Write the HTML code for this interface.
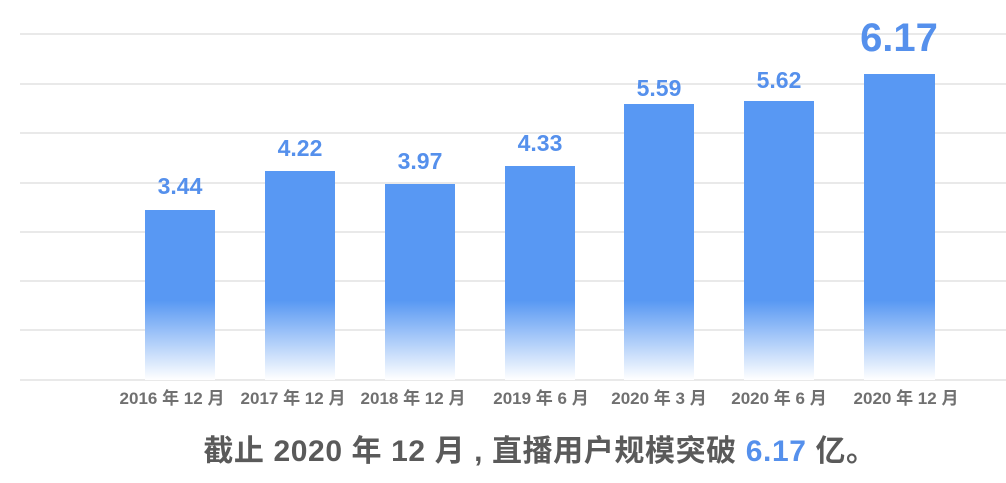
<!DOCTYPE html><html><head><meta charset="utf-8"><style>
body{margin:0;width:1006px;height:478px;background:#fff;overflow:hidden;font-family:"Liberation Sans","Noto Sans CJK SC",sans-serif}
</style></head><body>
<svg width="1006" height="478" xmlns="http://www.w3.org/2000/svg">
<defs>
<linearGradient id="h" x1="0" y1="74" x2="0" y2="380" gradientUnits="userSpaceOnUse">
<stop offset="0" stop-color="#5898f3"/><stop offset="0.74" stop-color="#5898f3"/><stop offset="1" stop-color="#ffffff"/></linearGradient></defs>
<g stroke="#e2e2e2" stroke-width="1.5">
<line x1="20" y1="34" x2="1006" y2="34"/><line x1="20" y1="84" x2="1006" y2="84"/><line x1="20" y1="133" x2="1006" y2="133"/><line x1="20" y1="183" x2="1006" y2="183"/><line x1="20" y1="232" x2="1006" y2="232"/><line x1="20" y1="281" x2="1006" y2="281"/><line x1="20" y1="330" x2="1006" y2="330"/><line x1="20" y1="380" x2="1006" y2="380"/></g>
<g fill="url(#h)">
<rect x="145" y="210" width="70" height="170"/><rect x="265" y="171" width="70" height="209"/><rect x="385" y="184" width="70" height="196"/><rect x="505" y="166" width="70" height="214"/><rect x="624" y="104" width="70" height="276"/><rect x="744" y="101" width="70" height="279"/><rect x="864" y="74" width="71" height="306"/></g>
<g fill="#5590ec" font-weight="bold" font-size="23" text-anchor="middle">
<text x="180" y="194">3.44</text><text x="300" y="156">4.22</text><text x="420" y="169">3.97</text><text x="540" y="151">4.33</text><text x="659" y="96">5.59</text><text x="779" y="88">5.62</text><text x="899" y="51" font-size="40">6.17</text></g>
<g fill="#707070" font-weight="bold" font-size="17" text-anchor="middle">
<text x="172" y="404">2016 年 12 月</text><text x="293" y="404">2017 年 12 月</text><text x="413" y="404">2018 年 12 月</text><text x="541" y="404">2019 年 6 月</text><text x="659" y="404">2020 年 3 月</text><text x="779" y="404">2020 年 6 月</text><text x="906" y="404">2020 年 12 月</text></g>
<text x="540" y="461" text-anchor="middle" font-size="30" font-weight="bold" fill="#5a5a5a" letter-spacing="0.6">截止 2020 年 12 月 , 直播用户规模突破 <tspan fill="#5590ec">6.17</tspan> 亿。</text>
</svg></body></html>
